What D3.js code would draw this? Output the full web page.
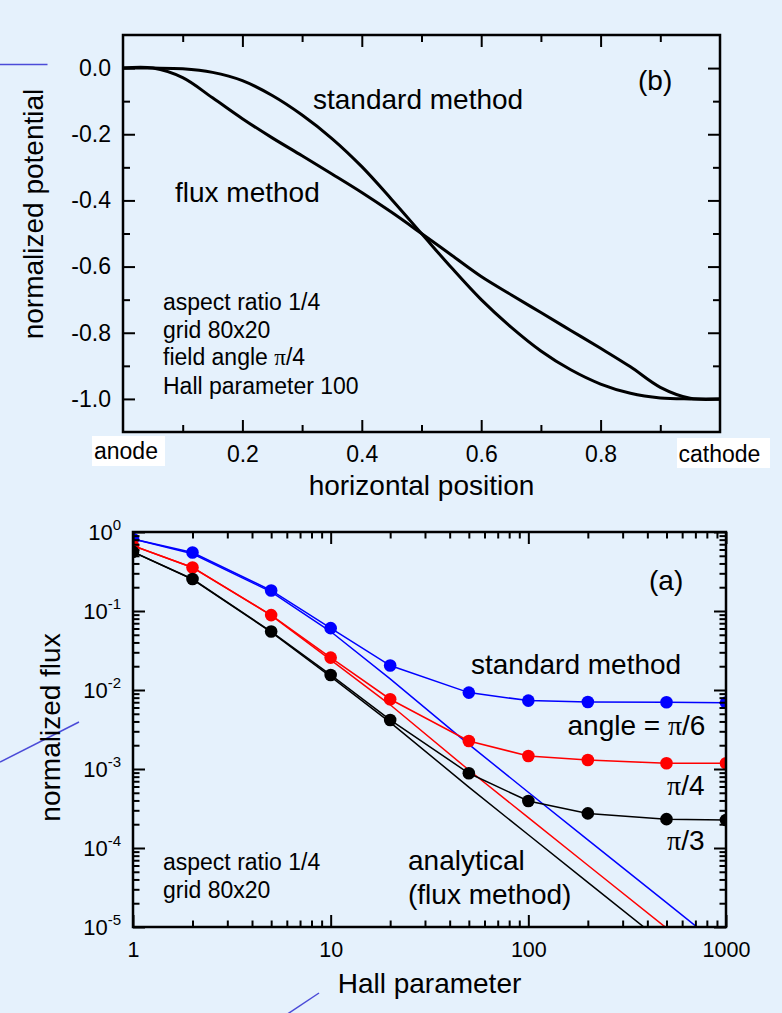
<!DOCTYPE html>
<html><head><meta charset="utf-8">
<script src="https://cdn.jsdelivr.net/npm/d3@7"></script>
<style>
html,body{margin:0;padding:0;background:#E5F1FC;}
svg{display:block;}
text{font-family:"Liberation Sans",Arial,Helvetica,sans-serif;fill:#000;}
</style></head><body>
<svg id="fig" width="782" height="1013"></svg>
<script>
// ---- panel (b): potential along the channel ----
const positions = [0,0.05,0.10,0.15,0.20,0.25,0.30,0.35,0.40,0.45,0.50,0.55,0.60,0.65,0.70,0.75,0.80,0.85,0.90,0.95,1.00];
const potentialStandard = [0,0,-0.002,-0.013,-0.038,-0.083,-0.142,-0.213,-0.298,-0.397,-0.5,-0.603,-0.700,-0.783,-0.855,-0.912,-0.955,-0.983,-0.997,-1.0,-1.0];
const potentialFlux = [0,0,-0.029,-0.090,-0.153,-0.211,-0.265,-0.320,-0.376,-0.436,-0.5,-0.565,-0.630,-0.685,-0.739,-0.793,-0.847,-0.903,-0.965,-0.998,-1.0];
const posMajor = [0.2,0.4,0.6,0.8];
const posMinor = [0.1,0.3,0.5,0.7,0.9];
const potMajor = [0,-0.2,-0.4,-0.6,-0.8,-1.0];
const potMinor = [-0.1,-0.3,-0.5,-0.7,-0.9];

// ---- panel (a): flux versus Hall parameter ----
const hall = [1,2,5,10,20,50,100,200,500,1000];
const stdPi6 = [0.815,0.55,0.182,0.0607,0.0204,0.00927,0.00734,0.00706,0.0070,0.00692];
const stdPi4 = [0.67,0.356,0.0887,0.0257,0.00764,0.00226,0.00146,0.0013,0.00118,0.00118];
const stdPi3 = [0.56,0.254,0.055,0.0155,0.00418,0.000883,0.000393,0.000274,0.000232,0.000226];
const anaPi6 = [0.815,0.53,0.175,0.055,0.0138,0.00205,0.000508,0.000127,0.0000203,0.00000508];
const anaPi4 = [0.67,0.355,0.088,0.024,0.0065,0.00097,0.000242,0.0000605,0.0000097,0.00000242];
const anaPi3 = [0.56,0.252,0.054,0.0148,0.0039,0.00059,0.000147,0.0000367,0.0000059,0.00000147];
const seriesColors = ["#0000FF","#FF0000","#000000"];
const hallMajor = [1,10,100,1000];
const fluxMajor = [1e-5,1e-4,1e-3,1e-2,1e-1,1];

const svg = d3.select("#fig");

function finishAxis(g, size){
  g.attr("font-family", null).attr("font-size", null);
  g.select(".domain").remove();
  g.selectAll(".tick line").attr("stroke","#000").attr("stroke-width",2);
  g.selectAll(".tick text").style("font-size", size + "px").attr("fill","#000");
  return g;
}

// decorative slide strokes
const deco = svg.append("g").attr("stroke","#4B4BD8").attr("stroke-width",1.5);
deco.append("line").attr("x1",0).attr("y1",64.5).attr("x2",47.5).attr("y2",64.5);
deco.append("line").attr("x1",0).attr("y1",762).attr("x2",79).attr("y2",722);
deco.append("line").attr("x1",286).attr("y1",1015).attr("x2",319).attr("y2",993);

// =============== panel (b) ===============
const bx = d3.scaleLinear().domain([0,1]).range([123,720]);
const by = d3.scaleLinear().domain([-1.1,0.1]).range([432,35]);
const pb = svg.append("g");

const potLine = d3.line().x((d,i)=>bx(positions[i])).y(d=>by(d)).curve(d3.curveCatmullRom.alpha(0.5));
[potentialStandard, potentialFlux].forEach(s=>{
  pb.append("path").attr("d", potLine(s)).attr("fill","none")
    .attr("stroke","#000").attr("stroke-width",3).attr("stroke-linejoin","round");
});

finishAxis(pb.append("g").attr("transform","translate(0,432)")
  .call(d3.axisBottom(bx).tickValues(posMajor).tickSize(-12).tickSizeOuter(0).tickPadding(14).tickFormat(d=>d.toFixed(1))), 23);
finishAxis(pb.append("g").attr("transform","translate(0,432)")
  .call(d3.axisBottom(bx).tickValues(posMinor).tickSize(-7).tickSizeOuter(0).tickFormat("")), 23);
finishAxis(pb.append("g").attr("transform","translate(0,35)")
  .call(d3.axisTop(bx).tickValues(posMajor).tickSize(-12).tickSizeOuter(0).tickFormat("")), 23);
finishAxis(pb.append("g").attr("transform","translate(0,35)")
  .call(d3.axisTop(bx).tickValues(posMinor).tickSize(-7).tickSizeOuter(0).tickFormat("")), 23);
finishAxis(pb.append("g").attr("transform","translate(123,0)")
  .call(d3.axisLeft(by).tickValues(potMajor).tickSize(-12).tickSizeOuter(0).tickPadding(12).tickFormat(d=>d.toFixed(1))), 23);
finishAxis(pb.append("g").attr("transform","translate(123,0)")
  .call(d3.axisLeft(by).tickValues(potMinor).tickSize(-7).tickSizeOuter(0).tickFormat("")), 23);
finishAxis(pb.append("g").attr("transform","translate(720,0)")
  .call(d3.axisRight(by).tickValues(potMajor).tickSize(-12).tickSizeOuter(0).tickFormat("")), 23);
finishAxis(pb.append("g").attr("transform","translate(720,0)")
  .call(d3.axisRight(by).tickValues(potMinor).tickSize(-7).tickSizeOuter(0).tickFormat("")), 23);

pb.append("rect").attr("x",123).attr("y",35).attr("width",597).attr("height",397)
  .attr("fill","none").attr("stroke","#000").attr("stroke-width",2.5);

// electrode labels at the ends of the axis
pb.append("rect").attr("x",92).attr("y",436).attr("width",73).attr("height",30).attr("fill","#fff");
pb.append("text").attr("x",94).attr("y",458.5).style("font-size","23px").text("anode");
pb.append("rect").attr("x",677).attr("y",438).attr("width",93).attr("height",30).attr("fill","#fff");
pb.append("text").attr("x",678.5).attr("y",461.5).style("font-size","23px").text("cathode");

pb.append("text").attr("x",421.5).attr("y",495).attr("text-anchor","middle").style("font-size","28px").text("horizontal position");
pb.append("text").attr("transform","translate(43,214) rotate(-90)").attr("text-anchor","middle").style("font-size","28px").text("normalized potential");
pb.append("text").attr("x",313).attr("y",109).style("font-size","28px").text("standard method");
pb.append("text").attr("x",175).attr("y",201.5).style("font-size","28px").text("flux method");
pb.append("text").attr("x",638).attr("y",90).style("font-size","28px").text("(b)");

const notesB = pb.append("g").style("font-size","23px");
notesB.append("text").attr("x",163).attr("y",309.5).text("aspect ratio 1/4");
notesB.append("text").attr("x",163).attr("y",337.5).text("grid 80x20");
const fa = notesB.append("text").attr("x",163).attr("y",365);
fa.append("tspan").text("field angle ");
fa.append("tspan").style("font-family","'Liberation Serif','DejaVu Serif',serif").text("π");
fa.append("tspan").text("/4");
notesB.append("text").attr("x",163).attr("y",394).text("Hall parameter 100");

// =============== panel (a) ===============
const ax = d3.scaleLog().domain([1,1000]).range([133,726]);
const ay = d3.scaleLog().domain([1e-5,1]).range([927,532]);
const pa = svg.append("g");

pa.append("clipPath").attr("id","clipA").append("rect")
  .attr("x",133).attr("y",532).attr("width",593).attr("height",395);
const plotA = pa.append("g").attr("clip-path","url(#clipA)");

const fluxLine = d3.line().x((d,i)=>ax(hall[i])).y(d=>ay(d));
[anaPi6, anaPi4, anaPi3].forEach((s,k)=>{
  plotA.append("path").attr("d", fluxLine(s)).attr("fill","none")
    .attr("stroke", seriesColors[k]).attr("stroke-width",1.5);
});
[stdPi6, stdPi4, stdPi3].forEach((s,k)=>{
  plotA.append("path").attr("d", fluxLine(s)).attr("fill","none")
    .attr("stroke", seriesColors[k]).attr("stroke-width",1.5);
});
[stdPi6, stdPi4, stdPi3].forEach((s,k)=>{
  plotA.append("g").selectAll("circle").data(s).join("circle")
    .attr("cx",(d,i)=>ax(hall[i])).attr("cy",d=>ay(d)).attr("r",6.3)
    .attr("fill", seriesColors[k]);
});

const hallMinor = [];
[1,10,100].forEach(b=>{ for(let k=2;k<=9;k++) hallMinor.push(k*b); });
const fluxMinor = [];
[1e-5,1e-4,1e-3,1e-2,1e-1].forEach(b=>{ for(let k=2;k<=9;k++) fluxMinor.push(k*b); });

finishAxis(pa.append("g").attr("transform","translate(0,927)")
  .call(d3.axisBottom(ax).tickValues(hallMajor).tickSize(-12).tickSizeOuter(0).tickPadding(15).tickFormat(d3.format("d"))), 21.5);
finishAxis(pa.append("g").attr("transform","translate(0,927)")
  .call(d3.axisBottom(ax).tickValues(hallMinor).tickSize(-6.5).tickSizeOuter(0).tickFormat("")), 21.5);
finishAxis(pa.append("g").attr("transform","translate(0,532)")
  .call(d3.axisTop(ax).tickValues(hallMajor).tickSize(-12).tickSizeOuter(0).tickFormat("")), 21.5);
finishAxis(pa.append("g").attr("transform","translate(0,532)")
  .call(d3.axisTop(ax).tickValues(hallMinor).tickSize(-6.5).tickSizeOuter(0).tickFormat("")), 21.5);
const yAxA = finishAxis(pa.append("g").attr("transform","translate(133,0)")
  .call(d3.axisLeft(ay).tickValues(fluxMajor).tickSize(-12).tickSizeOuter(0).tickPadding(12).tickFormat("")), 22);
finishAxis(pa.append("g").attr("transform","translate(133,0)")
  .call(d3.axisLeft(ay).tickValues(fluxMinor).tickSize(-6.5).tickSizeOuter(0).tickFormat("")), 21.5);
finishAxis(pa.append("g").attr("transform","translate(726,0)")
  .call(d3.axisRight(ay).tickValues(fluxMajor).tickSize(-12).tickSizeOuter(0).tickFormat("")), 21.5);
finishAxis(pa.append("g").attr("transform","translate(726,0)")
  .call(d3.axisRight(ay).tickValues(fluxMinor).tickSize(-6.5).tickSizeOuter(0).tickFormat("")), 21.5);

// power-of-ten labels with raised exponents
yAxA.selectAll(".tick text").each(function(d){
  const t = d3.select(this).text(null);
  t.append("tspan").text("10");
  t.append("tspan").attr("dy","-0.62em").style("font-size","15px").text(String(Math.round(Math.log10(d))));
});

pa.append("rect").attr("x",133).attr("y",532).attr("width",593).attr("height",395)
  .attr("fill","none").attr("stroke","#000").attr("stroke-width",2.5);

pa.append("text").attr("x",429.5).attr("y",993).attr("text-anchor","middle").style("font-size","28px").text("Hall parameter");
pa.append("text").attr("transform","translate(60,727.5) rotate(-90)").attr("text-anchor","middle").style("font-size","28px").text("normalized flux");
pa.append("text").attr("x",649).attr("y",590).style("font-size","28px").text("(a)");
pa.append("text").attr("x",471).attr("y",674).style("font-size","28px").text("standard method");

function piLabel(x, y, pre, post){
  const t = pa.append("text").attr("x",x).attr("y",y).style("font-size","28px");
  if (pre) t.append("tspan").text(pre);
  t.append("tspan").style("font-family","'Liberation Serif','DejaVu Serif',serif").text("π");
  t.append("tspan").text(post);
}
piLabel(567.5, 735, "angle = ", "/6");
piLabel(667, 795, "", "/4");
piLabel(667, 850, "", "/3");
pa.append("text").attr("x",408).attr("y",870).style("font-size","28px").text("analytical");
pa.append("text").attr("x",408).attr("y",904).style("font-size","28px").text("(flux method)");
pa.append("text").attr("x",163).attr("y",870).style("font-size","23px").text("aspect ratio 1/4");
pa.append("text").attr("x",163).attr("y",898).style("font-size","23px").text("grid 80x20");
</script>
</body></html>
